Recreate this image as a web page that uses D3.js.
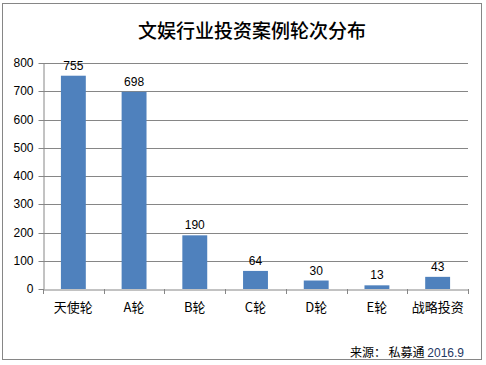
<!DOCTYPE html>
<html><head><meta charset="utf-8">
<script src="https://cdn.jsdelivr.net/npm/d3@7"></script>
<style>body{margin:0;background:#fff}svg{display:block}</style>
</head><body>
<script>
const categories = ["天使轮","A轮","B轮","C轮","D轮","E轮","战略投资"];
const values = [755,698,190,64,30,13,43];
const yTicks = [0,100,200,300,400,500,600,700,800];
const title = "文娱行业投资案例轮次分布";

(function(){
const W=486,H=365;
const svg=d3.select("body").append("svg").attr("width",W).attr("height",H);
svg.append("rect").attr("x",2.5).attr("y",3.5).attr("width",479).attr("height",356)
  .attr("fill","#fff").attr("stroke","#868686").attr("stroke-width",1);

const pL=43,pR=468,pT=63,pB=289;
const x=d3.scaleBand().domain(categories).range([pL,pR]).paddingInner(0.59).paddingOuter(0.295);
const y=d3.scaleLinear().domain([0,800]).range([pB,pT]);

// gridlines
svg.append("g").selectAll("line").data(yTicks.filter(d=>d>0)).join("line")
  .attr("x1",pL).attr("x2",pR).attr("y1",d=>Math.round(y(d))+0.5).attr("y2",d=>Math.round(y(d))+0.5)
  .attr("stroke","#868686").attr("stroke-width",1);

// y axis
const ya=svg.append("g").attr("transform",`translate(${pL+0.5},0)`)
  .call(d3.axisLeft(y).tickValues(yTicks).tickSize(5).tickSizeOuter(0).tickPadding(5));
ya.select(".domain").attr("stroke","#868686");
ya.selectAll(".tick line").attr("stroke","#868686");
ya.selectAll(".tick").attr("transform",d=>`translate(0,${Math.round(y(d))+0.5})`);
ya.selectAll("text").attr("font-family","Arial, Liberation Sans, sans-serif").attr("font-size",12).attr("fill","#000");

// bars
svg.append("g").selectAll("rect").data(values).join("rect")
  .attr("x",(d,i)=>x(categories[i])).attr("width",x.bandwidth())
  .attr("y",d=>y(d)).attr("height",d=>pB-y(d)).attr("fill","#4F81BD");

// x axis
const xa=svg.append("g").attr("transform",`translate(0,${pB+0.5})`)
  .call(d3.axisBottom(x).tickSize(0).tickPadding(13).tickSizeOuter(0));
xa.select(".domain").attr("stroke","#868686");
xa.selectAll("text").attr("font-family","Noto Sans CJK SC, sans-serif").attr("font-size",13).attr("fill","#000");
svg.append("g").selectAll("line").data(d3.range(categories.length+1)).join("line")
  .attr("x1",i=>Math.round(pL+i*(pR-pL)/categories.length)+0.5)
  .attr("x2",i=>Math.round(pL+i*(pR-pL)/categories.length)+0.5)
  .attr("y1",pB).attr("y2",pB+5).attr("stroke","#868686");

// value labels
svg.append("g").selectAll("text").data(values).join("text")
  .attr("x",(d,i)=>x(categories[i])+x.bandwidth()/2).attr("y",d=>y(d)-6)
  .attr("text-anchor","middle").attr("font-family","Arial, Liberation Sans, sans-serif")
  .attr("font-size",12).attr("fill","#000").text(d=>d);

// title
svg.append("text").attr("x",252).attr("y",38).attr("text-anchor","middle")
  .attr("font-family","Noto Sans CJK SC, sans-serif").attr("font-size",19).attr("font-weight",500)
  .attr("fill","#000").text(title);

// source
const src=svg.append("text").attr("x",464).attr("y",357).attr("text-anchor","end")
  .attr("font-family","Noto Sans CJK SC, sans-serif").attr("font-size",12);
src.append("tspan").attr("fill","#000").text("来源： 私募通  ");
src.append("tspan").attr("fill","#1F3864").attr("font-family","Arial, Liberation Sans, sans-serif").text("2016.9");
})();
</script>
</body></html>
